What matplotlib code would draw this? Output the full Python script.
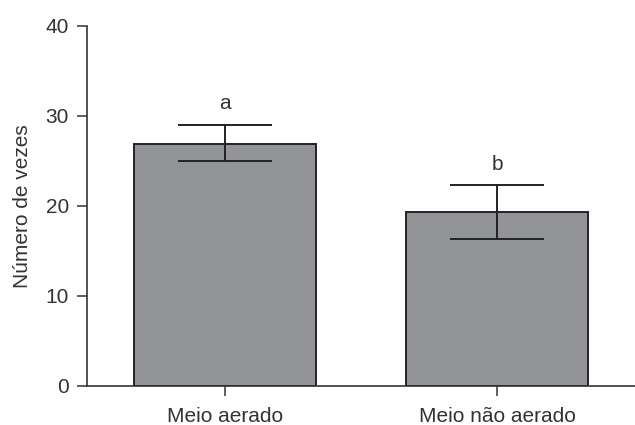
import matplotlib
matplotlib.use("Agg")
import matplotlib.pyplot as plt

categories = ["Meio aerado", "Meio não aerado"]
means = [26.9, 19.3]
err_low = [1.9, 3.0]
err_high = [2.1, 3.0]
letters = ["a", "b"]
y_ticks = [0, 10, 20, 30, 40]

plt.rcParams["font.family"] = ["Liberation Sans", "DejaVu Sans"]
TEXT_COLOR = "#333333"
LINE_COLOR = "#222222"

fig = plt.figure(figsize=(6.35, 4.25), dpi=100)
ax = fig.add_axes([0.137, 0.092, 0.863, 0.847])

x = list(range(len(categories)))
ax.bar(x, means, width=0.67, color="#939498", edgecolor=LINE_COLOR,
       linewidth=1.4, zorder=2)
ax.errorbar(x, means, yerr=[err_low, err_high], fmt="none",
            ecolor=LINE_COLOR, elinewidth=1.4, capsize=34, capthick=1.4,
            zorder=3)

for xi, m, eh, letter in zip(x, means, err_high, letters):
    ax.text(xi, m + eh + 1.3, letter, ha="center", va="bottom",
            fontsize=15, color=TEXT_COLOR)

ax.set_xlim(-0.507, 1.507)
ax.set_ylim(0, 40)
ax.set_xticks(x)
ax.set_xticklabels(categories)
ax.set_yticks(y_ticks)
ax.set_ylabel("Número de vezes", fontsize=15, color=TEXT_COLOR, labelpad=10)

for side in ("top", "right"):
    ax.spines[side].set_visible(False)
for side in ("left", "bottom"):
    ax.spines[side].set_color("#333333")
    ax.spines[side].set_linewidth(1.2)
ax.tick_params(axis="both", direction="out", length=7, width=1.1,
               color="#333333", labelsize=15, labelcolor=TEXT_COLOR, pad=6)
ax.tick_params(axis="x", pad=8)

fig.savefig("out.png", dpi=100, facecolor="white")
